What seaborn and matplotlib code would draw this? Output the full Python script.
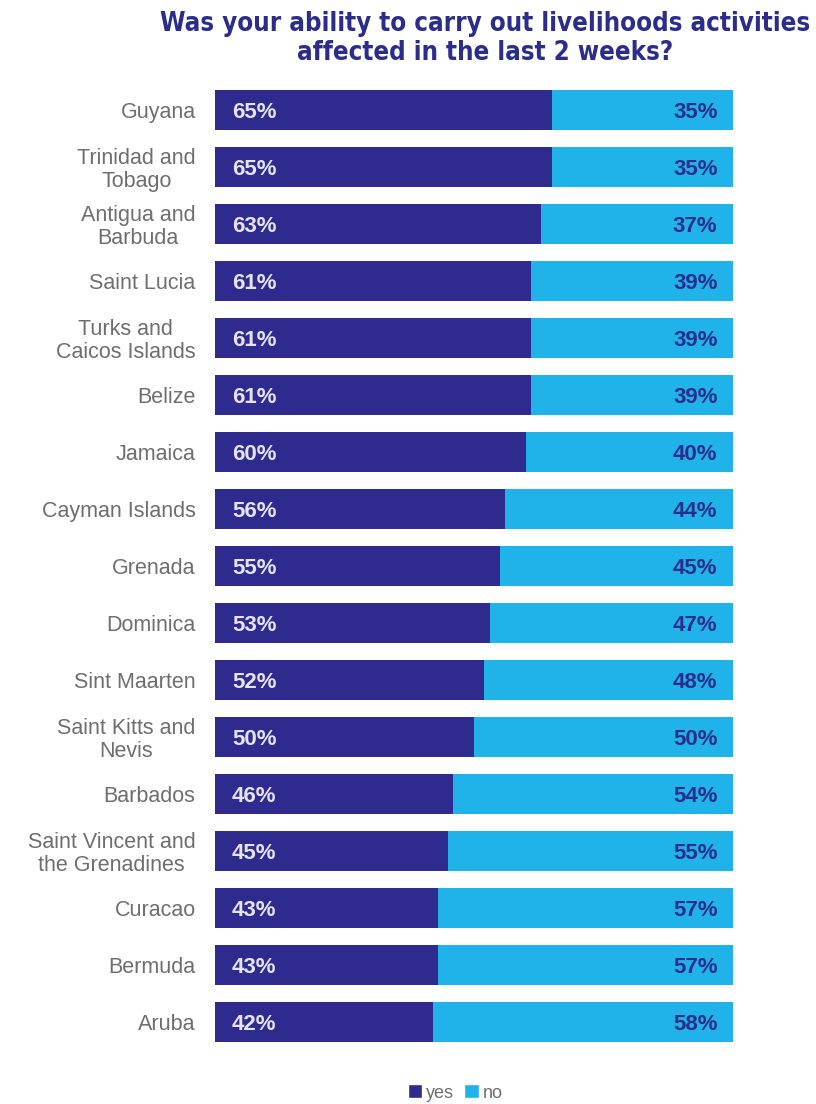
import matplotlib
matplotlib.use("Agg")
import matplotlib.pyplot as plt
import seaborn as sns
import pandas as pd
from matplotlib.patches import Patch
from matplotlib import font_manager

countries = [
    "Guyana", "Trinidad and\nTobago", "Antigua and\nBarbuda", "Saint Lucia",
    "Turks and\nCaicos Islands", "Belize", "Jamaica", "Cayman Islands",
    "Grenada", "Dominica", "Sint Maarten", "Saint Kitts and\nNevis",
    "Barbados", "Saint Vincent and\nthe Grenadines", "Curacao", "Bermuda", "Aruba",
]
yes_pct = [65, 65, 63, 61, 61, 61, 60, 56, 55, 53, 52, 50, 46, 45, 43, 43, 42]
no_pct = [35, 35, 37, 39, 39, 39, 40, 44, 45, 47, 48, 50, 54, 55, 57, 57, 58]

title = "Was your ability to carry out livelihoods activities\naffected in the last 2 weeks?"

DARK = "#2e2a8e"
LIGHT = "#1fb3ea"
NAVY = "#2b2d8c"
GREY = "#6e6e6e"

df = pd.DataFrame({"country": countries, "yes": yes_pct, "no": no_pct})
df["total"] = df["yes"] + df["no"]

sns.set_theme(style="white")
plt.rcParams["font.family"] = ["Liberation Sans", "DejaVu Sans"]

fig = plt.figure(figsize=(8.16, 11.04), dpi=100)
ax = fig.add_axes([215 / 816, 0.0485, 518 / 816, 0.8777])

# stacked bars: full width in "no" colour, "yes" share drawn over it
sns.barplot(data=df, x="total", y="country", color=LIGHT, width=0.7,
            saturation=1, linewidth=0, ax=ax, orient="h")
sns.barplot(data=df, x="yes", y="country", color=DARK, width=0.7,
            saturation=1, linewidth=0, ax=ax, orient="h")

ax.set_xlim(0, 100)
ax.set_ylim(len(countries) - 0.5, -0.5)
ax.set_xlabel("")
ax.set_ylabel("")
ax.set_xticks([])
sns.despine(ax=ax, left=True, bottom=True)
ax.tick_params(axis="y", length=0, pad=14)
for lab in ax.get_yticklabels():
    lab.set_fontsize(15.5)
    lab.set_color(GREY)
    lab.set_multialignment("center")
    lab.set_linespacing(1.12)

for i, (y, n) in enumerate(zip(yes_pct, no_pct)):
    ax.text(3.3, i, f"{y}%", ha="left", va="center_baseline", fontsize=16,
            fontweight="bold", color="#e4e4f4")
    ax.text(100 - 3.0, i, f"{n}%", ha="right", va="center_baseline", fontsize=16,
            fontweight="bold", color=NAVY)

# condensed face for the heading
title_font = font_manager.FontProperties(family="DejaVu Sans", weight="bold",
                                         stretch="condensed", size=18.5)
fig.text(0.594, 0.990, title, ha="center", va="top", fontproperties=title_font,
         color=NAVY, linespacing=1.15)

handles = [Patch(facecolor=DARK, label="yes"), Patch(facecolor=LIGHT, label="no")]
fig.legend(handles=handles, loc="center", bbox_to_anchor=(455 / 816, 1 - 1093 / 1104),
           ncol=2, frameon=False, fontsize=13, handlelength=0.8, handleheight=0.8,
           handletextpad=0.2, columnspacing=0.6, labelcolor=GREY)

fig.savefig("out.png", dpi=100, facecolor="white")
